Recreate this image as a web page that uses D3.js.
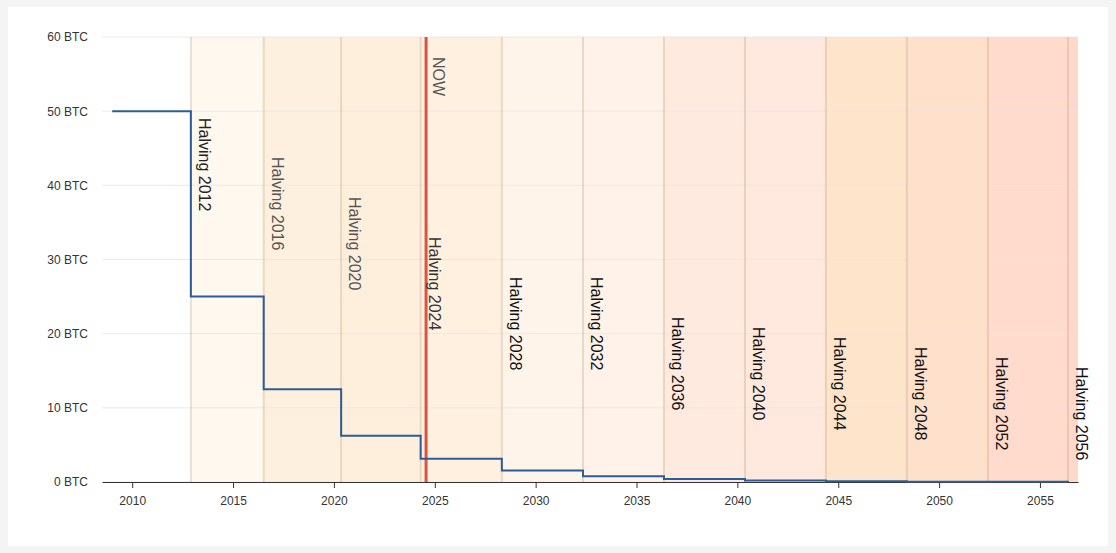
<!DOCTYPE html>
<html>
<head>
<meta charset="utf-8">
<script src="https://cdn.jsdelivr.net/npm/d3@7"></script>
<style>
  html, body { margin: 0; padding: 0; background: #f4f4f4; }
  body { width: 1116px; height: 553px; position: relative; overflow: hidden; }
  .panel { position: absolute; left: 8px; top: 7px; width: 1100px; height: 539px; background: #fff; }
  svg { position: absolute; left: 0; top: 0; font-family: Arial, "Liberation Sans", sans-serif; }
  .axis text { font-size: 12px; fill: #333; }
  .halving-label { font-size: 16px; }
</style>
</head>
<body>
<div class="panel"></div>
<svg id="chart" width="1116" height="553"></svg>
<script>
const genesisDate = "2009-01-03";
const halvingDates = [
  "2012-11-28", "2016-07-09", "2020-05-11", "2024-04-20",
  "2028-04-29", "2032-05-07", "2036-05-12", "2040-05-18",
  "2044-05-22", "2048-05-26", "2052-06-01", "2056-05-20"
];
const halvingLabels = [
  "Halving 2012", "Halving 2016", "Halving 2020", "Halving 2024",
  "Halving 2028", "Halving 2032", "Halving 2036", "Halving 2040",
  "Halving 2044", "Halving 2048", "Halving 2052", "Halving 2056"
];
// block reward in BTC, starting at genesis then after each halving
const rewards = [
  50, 25, 12.5, 6.25, 3.125, 1.5625, 0.78125, 0.390625,
  0.1953125, 0.09765625, 0.048828125, 0.0244140625, 0.01220703125
];
const bandColors = [
  "#fef8ef", "#fef0df", "#feefdd", "#fff0e0", "#fff4ea", "#fff2e8",
  "#ffeadf", "#ffe8dd", "#ffe4cc", "#ffe0cb", "#fedbcc", "#fed8cb"
];
const labelColors = [
  "#222", "#555", "#555", "#333", "#111", "#111",
  "#111", "#111", "#111", "#111", "#111", "#111"
];
const labelDrop = [81, 120, 160, 200, 240, 240, 280, 290, 300, 310, 320, 330];
const nowDate = "2024-07-27";
const yTicks = [0, 10, 20, 30, 40, 50, 60];
const xTickYears = [2010, 2015, 2020, 2025, 2030, 2035, 2040, 2045, 2050, 2055];

const width = 1116;
const height = 553;
const margin = { top: 37, right: 38, bottom: 71, left: 102 };
const innerWidth = width - margin.left - margin.right;
const innerHeight = height - margin.top - margin.bottom;

const parse = d3.timeParse("%Y-%m-%d");
const genesis = parse(genesisDate);
const halvings = halvingDates.map(parse);
const now = parse(nowDate);

const xStart = d3.timeMonth.offset(genesis, -6);
const xEnd = d3.timeMonth.offset(halvings[halvings.length - 1], 6);

const svg = d3.select("#chart");
const g = svg.append("g").attr("transform", `translate(${margin.left},${margin.top})`);

const x = d3.scaleTime().domain([xStart, xEnd]).range([0, innerWidth]);
const y = d3.scaleLinear().domain([0, 60]).range([innerHeight, 0]);

// shaded eras between halvings
const bands = halvings.map((d, i) => ({
  start: d,
  end: i < halvings.length - 1 ? halvings[i + 1] : xEnd,
  color: bandColors[i]
}));
g.append("g")
  .selectAll("rect")
  .data(bands)
  .join("rect")
  .attr("x", (d) => x(d.start))
  .attr("y", 0)
  .attr("width", (d) => x(d.end) - x(d.start))
  .attr("height", innerHeight)
  .attr("fill", (d) => d.color);

// horizontal grid
g.append("g")
  .selectAll("line")
  .data(yTicks)
  .join("line")
  .attr("x1", 0)
  .attr("x2", innerWidth)
  .attr("y1", (d) => y(d))
  .attr("y2", (d) => y(d))
  .attr("stroke", "#e6e6e6")
  .attr("stroke-opacity", 0.85);

// halving markers
g.append("g")
  .selectAll("line")
  .data(halvings)
  .join("line")
  .attr("x1", (d) => x(d))
  .attr("x2", (d) => x(d))
  .attr("y1", 0)
  .attr("y2", innerHeight)
  .attr("stroke", "rgb(150,110,70)")
  .attr("stroke-opacity", 0.2)
  .attr("stroke-width", 2);

// y axis labels (no line)
const yAxisG = g.append("g").attr("class", "axis")
  .call(d3.axisLeft(y).tickValues(yTicks).tickSize(0).tickPadding(14).tickFormat((d) => `${d} BTC`));
yAxisG.select(".domain").remove();

// x axis
const xAxisG = g.append("g").attr("class", "axis")
  .attr("transform", `translate(0,${innerHeight})`)
  .call(d3.axisBottom(x)
    .tickValues(xTickYears.map((yr) => new Date(yr, 0, 1)))
    .tickFormat(d3.timeFormat("%Y"))
    .tickSize(6)
    .tickSizeOuter(0)
    .tickPadding(8));
xAxisG.select(".domain").attr("stroke", "#333");
xAxisG.selectAll(".tick line").attr("stroke", "#333");

// now marker
g.append("line")
  .attr("x1", x(now))
  .attr("x2", x(now))
  .attr("y1", 0)
  .attr("y2", innerHeight)
  .attr("stroke", "#d9553f")
  .attr("stroke-width", 3);

g.append("text")
  .attr("class", "halving-label")
  .attr("transform", `translate(${x(now) + 7},20) rotate(90)`)
  .attr("fill", "#555")
  .text("NOW");

// reward step line
const points = [genesis].concat(halvings).map((d, i) => ({ date: d, value: rewards[i] }));
const line = d3.line()
  .x((d) => x(d.date))
  .y((d) => y(d.value))
  .curve(d3.curveStepAfter);
g.append("path")
  .datum(points)
  .attr("fill", "none")
  .attr("stroke", "#2c5d98")
  .attr("stroke-width", 2)
  .attr("d", line);

// halving labels
g.append("g")
  .selectAll("text")
  .data(halvings)
  .join("text")
  .attr("class", "halving-label")
  .attr("transform", (d, i) => `translate(${x(d) + 8},${labelDrop[i]}) rotate(90)`)
  .attr("fill", (d, i) => labelColors[i])
  .text((d, i) => halvingLabels[i]);
</script>
</body>
</html>
